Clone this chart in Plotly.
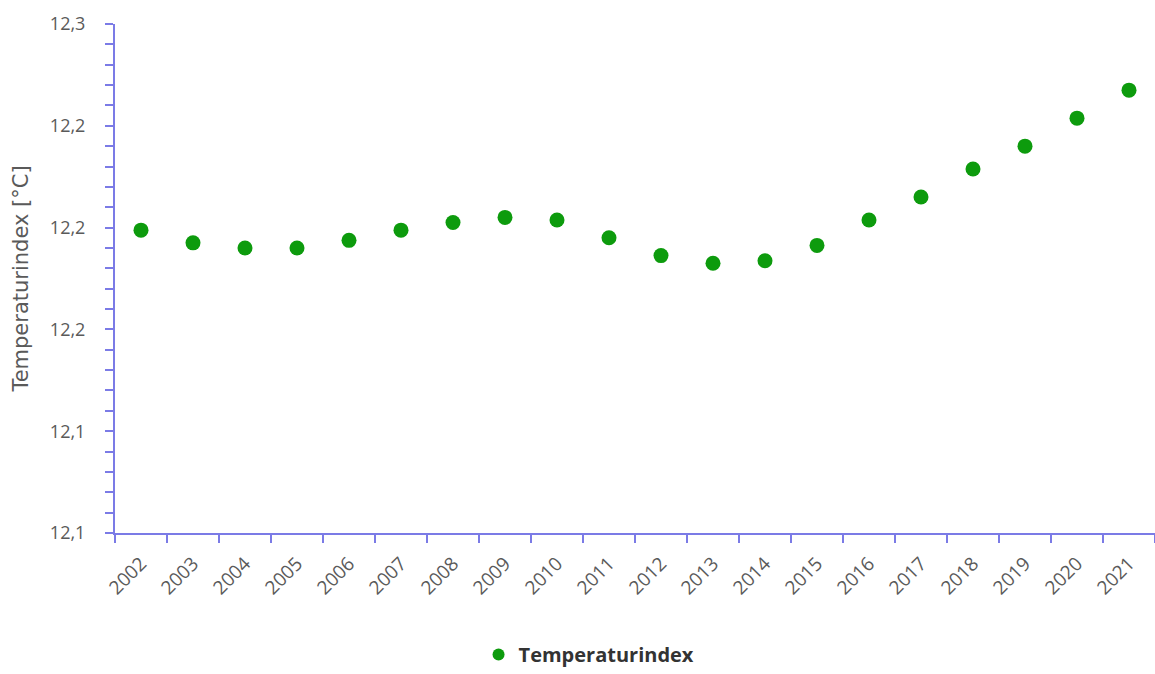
import plotly.graph_objects as go

years = [str(y) for y in range(2002, 2022)]
temperaturindex = [12.199, 12.194, 12.192, 12.192, 12.195, 12.199, 12.202, 12.204,
                   12.203, 12.196, 12.189, 12.186, 12.187, 12.193, 12.203, 12.212,
                   12.223, 12.232, 12.243, 12.254]

axis_color = "#7b7be6"
label_color = "#5a5a5a"
font_family = "Open Sans, DejaVu Sans, sans-serif"

fig = go.Figure(
    go.Scatter(
        x=years,
        y=temperaturindex,
        mode="markers",
        name="Temperaturindex",
        marker=dict(color="#0d9b0d", size=15),
        showlegend=True,
    )
)

fig.update_layout(
    width=1155,
    height=674,
    margin=dict(l=115, r=0, t=24, b=141),
    paper_bgcolor="white",
    plot_bgcolor="white",
    separators=",.",
    font=dict(family=font_family, color=label_color, size=18),
    legend=dict(
        orientation="h",
        xref="container",
        yref="container",
        x=0.51,
        xanchor="center",
        y=0.0,
        yanchor="bottom",
        font=dict(size=20, color="#333333", family="Open Sans, sans-serif", weight="bold"),
        itemsizing="constant",
    ),
)

fig.update_xaxes(
    type="category",
    tickson="boundaries",
    ticks="outside",
    ticklen=8,
    tickwidth=2,
    tickcolor=axis_color,
    showline=True,
    linecolor=axis_color,
    linewidth=2,
    showgrid=False,
    tickangle=-45,
    ticklabelstandoff=10,
    tickfont=dict(size=19, color=label_color),
    range=[-0.5, 19.5],
    zeroline=False,
)

fig.update_yaxes(
    range=[12.08, 12.28],
    tickmode="linear",
    tick0=12.08,
    dtick=0.04,
    tickformat=".1f",
    ticks="outside",
    ticklen=8,
    tickwidth=2,
    tickcolor=axis_color,
    showline=True,
    linecolor=axis_color,
    linewidth=2,
    showgrid=False,
    zeroline=False,
    ticklabelstandoff=16,
    minor=dict(dtick=0.008, ticks="outside", ticklen=8, tickwidth=2, tickcolor=axis_color, showgrid=False),
    title=dict(text="Temperaturindex [°C]",
               font=dict(size=21, color=label_color, family="DejaVu Sans, sans-serif"),
               standoff=16),
    tickfont=dict(size=18, color=label_color),
)

fig.write_html("out.html")
